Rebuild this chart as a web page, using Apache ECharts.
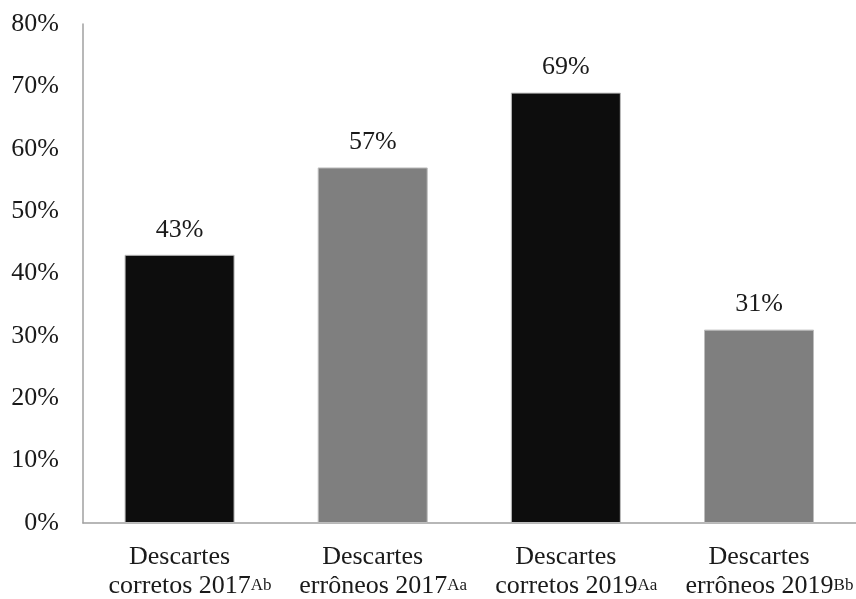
<!DOCTYPE html>
<html>
<head>
<meta charset="utf-8">
<script src="https://cdn.jsdelivr.net/npm/echarts@6/dist/echarts.min.js"></script>
<style>
  html, body { margin: 0; padding: 0; background: #fff; }
  #chart { width: 856px; height: 599px; }
</style>
</head>
<body>
<div id="chart"></div>
<script>
// Disposal categories: first line, second line, significance letters
const categoryTop = ['Descartes', 'Descartes', 'Descartes', 'Descartes'];
const categoryBottom = ['corretos 2017', 'errôneos 2017', 'corretos 2019', 'errôneos 2019'];
const categoryLetters = ['Ab', 'Aa', 'Aa', 'Bb'];
// Share of disposals (%)
const shareValues = [43, 57, 69, 31];
const barColors = ['#0d0d0d', '#7f7f7f', '#0d0d0d', '#7f7f7f'];
const yTicks = [0, 10, 20, 30, 40, 50, 60, 70, 80];

const serif = '"Liberation Serif", "Times New Roman", serif';
const textColor = '#1a1a1a';

const categories = categoryTop.map((t, i) => i);

const chart = echarts.init(document.getElementById('chart'));
chart.setOption({
  backgroundColor: '#ffffff',
  animation: false,
  grid: { left: 83, right: -3, top: 24, bottom: 76, containLabel: false },
  xAxis: {
    type: 'category',
    data: categories,
    axisLine: { show: true, lineStyle: { color: '#a0a0a0', width: 1.5 } },
    axisTick: { show: false },
    axisLabel: {
      interval: 0,
      margin: 18,
      formatter: function (v, i) {
        return '{t|' + categoryTop[i] + '}\n{g|\u00a0}{b|' + categoryBottom[i] + '}{s|' + categoryLetters[i] + '}';
      },
      rich: {
        t: { fontFamily: serif, fontSize: 26, color: textColor, lineHeight: 29, verticalAlign: 'bottom' },
        b: { fontFamily: serif, fontSize: 26, color: textColor, lineHeight: 29, verticalAlign: 'bottom' },
        s: { fontFamily: serif, fontSize: 17, color: textColor, lineHeight: 20, verticalAlign: 'bottom', padding: [0, 0, 5, 0] },
        g: { fontFamily: serif, fontSize: 17, width: 21, lineHeight: 20, verticalAlign: 'bottom', padding: [0, 0, 5, 0] }
      }
    }
  },
  yAxis: {
    type: 'value',
    min: 0,
    max: 80,
    interval: 10,
    splitLine: { show: false },
    axisLine: { show: true, lineStyle: { color: '#a0a0a0', width: 1.5 } },
    axisTick: { show: false },
    axisLabel: {
      margin: 24,
      fontFamily: serif,
      fontSize: 26,
      color: textColor,
      formatter: function (v) { return yTicks.indexOf(v) >= 0 ? v + '%' : ''; }
    }
  },
  series: [{
    type: 'bar',
    barWidth: 110,
    data: shareValues.map((v, i) => ({
      value: v,
      itemStyle: { color: barColors[i], borderColor: '#bdbdbd', borderWidth: 1 }
    })),
    label: {
      show: true,
      position: 'top',
      distance: 12,
      fontFamily: serif,
      fontSize: 26,
      color: textColor,
      formatter: '{c}%'
    }
  }]
});
</script>
</body>
</html>
